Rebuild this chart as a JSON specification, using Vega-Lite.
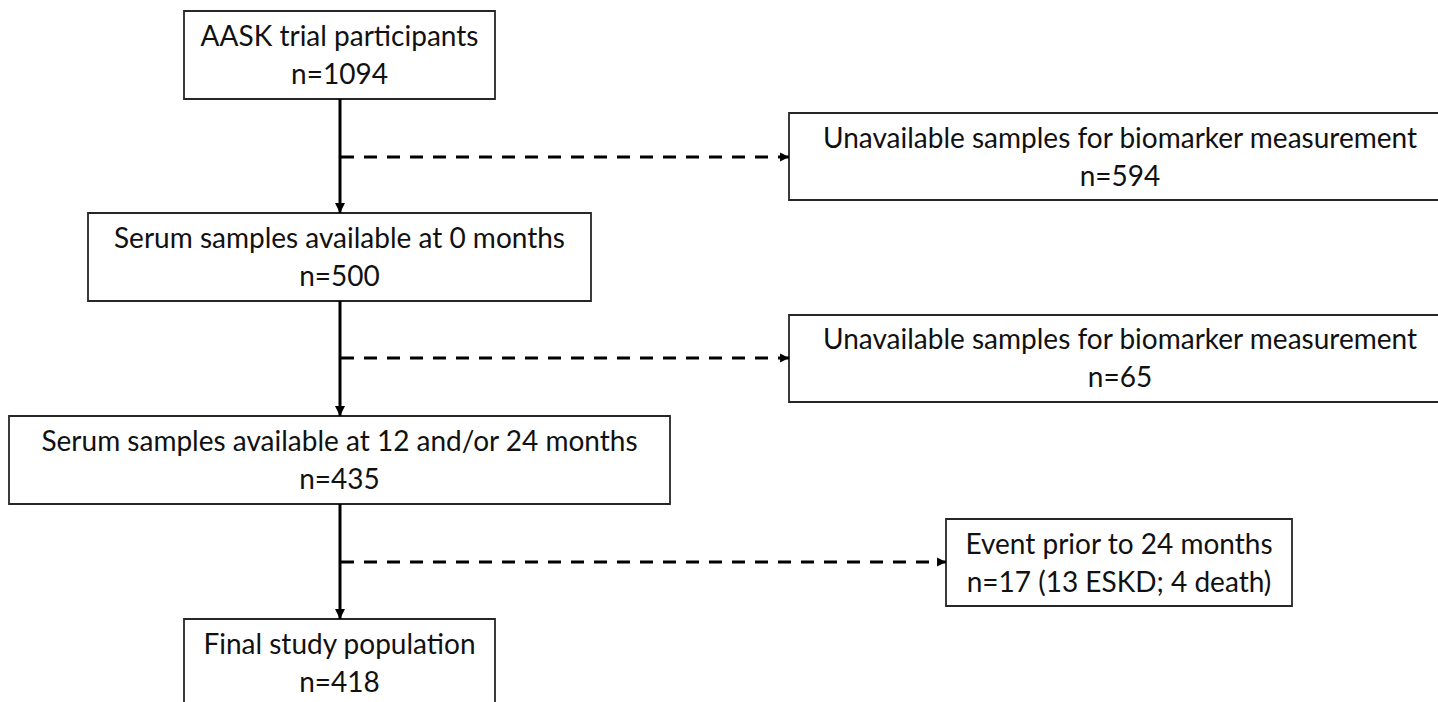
{
  "$schema": "https://vega.github.io/schema/vega-lite/v6.json",
  "width": 1438,
  "height": 702,
  "padding": 0,
  "autosize": {"type": "none"},
  "background": "white",
  "config": {"view": {"stroke": null}},
  "datasets": {
    "boxes": [
      {"id": "b1", "x1": 184, "x2": 495, "y1": 11, "y2": 99},
      {"id": "b2", "x1": 789, "x2": 1452, "y1": 113, "y2": 200},
      {"id": "b3", "x1": 88, "x2": 591, "y1": 213, "y2": 301},
      {"id": "b4", "x1": 789, "x2": 1452, "y1": 315, "y2": 402},
      {"id": "b5", "x1": 9, "x2": 670, "y1": 416, "y2": 504},
      {"id": "b6", "x1": 946, "x2": 1292, "y1": 519, "y2": 606},
      {"id": "b7", "x1": 184, "x2": 495, "y1": 619, "y2": 712}
    ],
    "labels": [
      {"text": "AASK trial participants", "x": 339.5, "y": 38},
      {"text": "n=1094", "x": 339.5, "y": 76},
      {"text": "Unavailable samples for biomarker measurement", "x": 1120, "y": 140},
      {"text": "n=594", "x": 1120, "y": 178},
      {"text": "Serum samples available at 0 months", "x": 339.5, "y": 240},
      {"text": "n=500", "x": 339.5, "y": 278},
      {"text": "Unavailable samples for biomarker measurement", "x": 1120, "y": 341},
      {"text": "n=65", "x": 1120, "y": 379},
      {"text": "Serum samples available at 12 and/or 24 months", "x": 339.5, "y": 443},
      {"text": "n=435", "x": 339.5, "y": 481},
      {"text": "Event prior to 24 months", "x": 1119, "y": 546},
      {"text": "n=17 (13 ESKD; 4 death)", "x": 1119, "y": 584},
      {"text": "Final study population", "x": 339.5, "y": 646},
      {"text": "n=418", "x": 339.5, "y": 684}
    ],
    "arrows": [
      {"kind": "solid", "dir": "down", "x1": 340, "y1": 99, "x2": 340, "y2": 213},
      {"kind": "solid", "dir": "down", "x1": 340, "y1": 301, "x2": 340, "y2": 416},
      {"kind": "solid", "dir": "down", "x1": 340, "y1": 504, "x2": 340, "y2": 619},
      {"kind": "dashed", "dir": "right", "x1": 341, "y1": 157, "x2": 789, "y2": 157},
      {"kind": "dashed", "dir": "right", "x1": 341, "y1": 358, "x2": 789, "y2": 358},
      {"kind": "dashed", "dir": "right", "x1": 341, "y1": 562, "x2": 946, "y2": 562}
    ]
  },
  "layer": [
    {
      "data": {"name": "boxes"},
      "mark": {"type": "rect", "fill": "white", "stroke": "#262626", "strokeWidth": 1.8, "clip": true},
      "encoding": {
        "x": {"field": "x1", "type": "quantitative", "scale": {"domain": [0, 1438], "nice": false, "zero": false}, "axis": null},
        "x2": {"field": "x2"},
        "y": {"field": "y1", "type": "quantitative", "scale": {"domain": [0, 702], "nice": false, "zero": false, "reverse": true}, "axis": null},
        "y2": {"field": "y2"}
      }
    },
    {
      "data": {"name": "arrows"},
      "transform": [{"filter": "datum.kind === 'solid'"}],
      "mark": {"type": "rule", "stroke": "black", "strokeWidth": 3},
      "encoding": {
        "x": {"field": "x1", "type": "quantitative"},
        "x2": {"field": "x2"},
        "y": {"field": "y1", "type": "quantitative"},
        "y2": {"field": "y2"}
      }
    },
    {
      "data": {"name": "arrows"},
      "transform": [{"filter": "datum.kind === 'dashed'"}],
      "mark": {"type": "rule", "stroke": "black", "strokeWidth": 3, "strokeDash": [13, 10]},
      "encoding": {
        "x": {"field": "x1", "type": "quantitative"},
        "x2": {"field": "x2"},
        "y": {"field": "y1", "type": "quantitative"},
        "y2": {"field": "y2"}
      }
    },
    {
      "data": {"name": "arrows"},
      "transform": [{"filter": "datum.dir === 'down'"}],
      "mark": {"type": "point", "filled": true, "color": "black", "opacity": 1, "size": 100, "shape": "M-1,-2L1,-2L0,0Z"},
      "encoding": {
        "x": {"field": "x2", "type": "quantitative"},
        "y": {"field": "y2", "type": "quantitative"}
      }
    },
    {
      "data": {"name": "arrows"},
      "transform": [{"filter": "datum.dir === 'right'"}],
      "mark": {"type": "point", "filled": true, "color": "black", "opacity": 1, "size": 80, "shape": "M-2,-1L-2,1L0,0Z"},
      "encoding": {
        "x": {"field": "x2", "type": "quantitative"},
        "y": {"field": "y2", "type": "quantitative"}
      }
    },
    {
      "data": {"name": "labels"},
      "mark": {"type": "text", "font": "Lato", "fontSize": 28, "color": "#111111", "align": "center", "baseline": "middle"},
      "encoding": {
        "x": {"field": "x", "type": "quantitative"},
        "y": {"field": "y", "type": "quantitative"},
        "text": {"field": "text"}
      }
    }
  ]
}
